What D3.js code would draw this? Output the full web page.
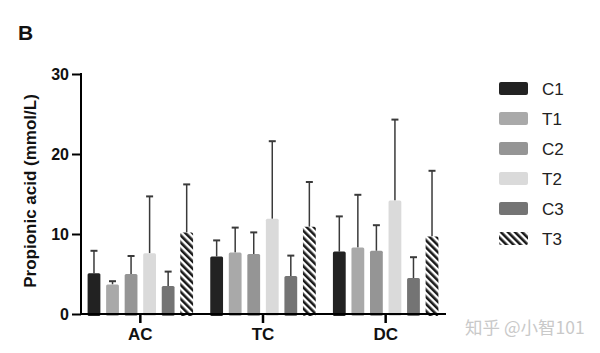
<!DOCTYPE html>
<html>
<head>
<meta charset="utf-8">
<script src="https://cdn.jsdelivr.net/npm/d3@7"></script>
<style>
  body { margin: 0; background: #fff; }
  text { font-family: Arial, "Liberation Sans", sans-serif; }
</style>
</head>
<body>
<script>
// data
const regions = ["AC", "TC", "DC"];
const groups = ["C1", "T1", "C2", "T2", "C3", "T3"];
const means = {
    AC: [5.1, 3.7, 5.0, 7.6, 3.5, 10.2],
    TC: [7.2, 7.7, 7.5, 11.9, 4.75, 10.9],
    DC: [7.8, 8.3, 7.9, 14.2, 4.5, 9.7]
};
const errTops = {
    AC: [7.9, 4.1, 7.25, 14.7, 5.3, 16.2],
    TC: [9.2, 10.8, 10.2, 21.6, 7.3, 16.5],
    DC: [12.2, 14.9, 11.1, 24.3, 7.1, 17.9]
};
const yTicks = [0, 10, 20, 30];
const colors = ["#222222", "#a9a9a9", "#959595", "#dadada", "#747474", "url(#hatch)"];

const svg = d3.select("body")
    .append("svg")
    .attr("width", 600)
    .attr("height", 353);

// hatch pattern for T3
const pat = svg.append("defs").append("pattern")
    .attr("id", "hatch")
    .attr("patternUnits", "userSpaceOnUse")
    .attr("width", 5)
    .attr("height", 5)
    .attr("patternTransform", "rotate(-45)");
pat.append("rect").attr("width", 5).attr("height", 5).attr("fill", "#fff");
pat.append("rect").attr("width", 2.6).attr("height", 5).attr("fill", "#1a1a1a");

const x0 = d3.scaleBand().domain(regions).range([79, 447]).paddingInner(0.14).paddingOuter(0.07);
const x1 = d3.scaleBand().domain(groups).range([0, x0.bandwidth()]).paddingInner(0.31).paddingOuter(0);
const y = d3.scaleLinear().domain([0, 30]).range([314, 74]);

// bars
const rows = [];
regions.forEach(function(r) {
    groups.forEach(function(g, i) {
        rows.push({ region: r, group: g, i: i, v: means[r][i], e: errTops[r][i] });
    });
});

// error bars (upper only)
const eb = svg.append("g").attr("stroke", "#3a3a3a").attr("stroke-width", 1.5);
rows.forEach(function(d) {
    const cx = x0(d.region) + x1(d.group) + x1.bandwidth() / 2;
    eb.append("line").attr("x1", cx).attr("x2", cx).attr("y1", y(d.v)).attr("y2", y(d.e));
    eb.append("line").attr("x1", cx - 3.5).attr("x2", cx + 3.5).attr("y1", y(d.e)).attr("y2", y(d.e))
        .attr("stroke-width", 2);
});

svg.append("g")
    .selectAll("rect")
    .data(rows)
    .enter()
    .append("rect")
    .attr("x", function(d) { return x0(d.region) + x1(d.group); })
    .attr("y", function(d) { return y(d.v); })
    .attr("width", x1.bandwidth())
    .attr("height", function(d) { return y(0) - y(d.v) + 2; })
    .attr("rx", 1.5)
    .attr("fill", function(d) { return colors[d.i]; });

// Y axis
const yAxis = svg.append("g")
    .attr("transform", "translate(81,0)")
    .call(d3.axisLeft(y).tickValues(yTicks).tickSize(9).tickSizeOuter(0));
yAxis.select(".domain").attr("stroke", "#000").attr("stroke-width", 2).attr("d", "M0,73V315");
yAxis.selectAll(".tick line").attr("stroke", "#000").attr("stroke-width", 2);
yAxis.selectAll(".tick text")
    .attr("font-size", 16).attr("font-weight", "bold").attr("fill", "#111")
    .attr("font-family", "Arial, 'Liberation Sans', sans-serif")
    .attr("x", -12);

// X axis
const xAxis = svg.append("g")
    .attr("transform", "translate(0,314)")
    .call(d3.axisBottom(x0).tickSize(9).tickSizeOuter(0));
xAxis.select(".domain").attr("stroke", "#000").attr("stroke-width", 2).attr("d", "M80,0H446");
xAxis.selectAll(".tick line").attr("stroke", "#000").attr("stroke-width", 2.5);
xAxis.selectAll(".tick text")
    .attr("font-size", 17).attr("font-weight", "bold").attr("fill", "#111")
    .attr("font-family", "Arial, 'Liberation Sans', sans-serif")
    .attr("y", 14);

// Y label
svg.append("text")
    .attr("transform", "translate(36,191) rotate(-90)")
    .attr("text-anchor", "middle")
    .attr("font-size", 17)
    .attr("font-weight", "bold")
    .attr("fill", "#111")
    .text("Propionic acid (mmol/L)");

// panel letter
svg.append("text")
    .attr("x", 18).attr("y", 40)
    .attr("font-size", 21).attr("font-weight", "bold").attr("fill", "#111")
    .text("B");

// legend
const leg = svg.append("g")
    .selectAll("g")
    .data(groups)
    .enter()
    .append("g")
    .attr("transform", function(d, i) { return `translate(499,${82 + i * 30})`; });
leg.append("rect")
    .attr("width", 29).attr("height", 13).attr("rx", 2)
    .attr("fill", function(d, i) { return colors[i]; });
leg.append("text")
    .attr("x", 43).attr("y", 13)
    .attr("font-size", 17).attr("fill", "#222")
    .text(function(d) { return d; });

// watermark
svg.append("text")
    .attr("x", 465).attr("y", 334)
    .attr("font-size", 17.5)
    .attr("fill", "#c9c9c9")
    .style("font-family", "'Noto Sans CJK SC', sans-serif")
    .text("知乎 @小智101");
</script>
</body>
</html>
